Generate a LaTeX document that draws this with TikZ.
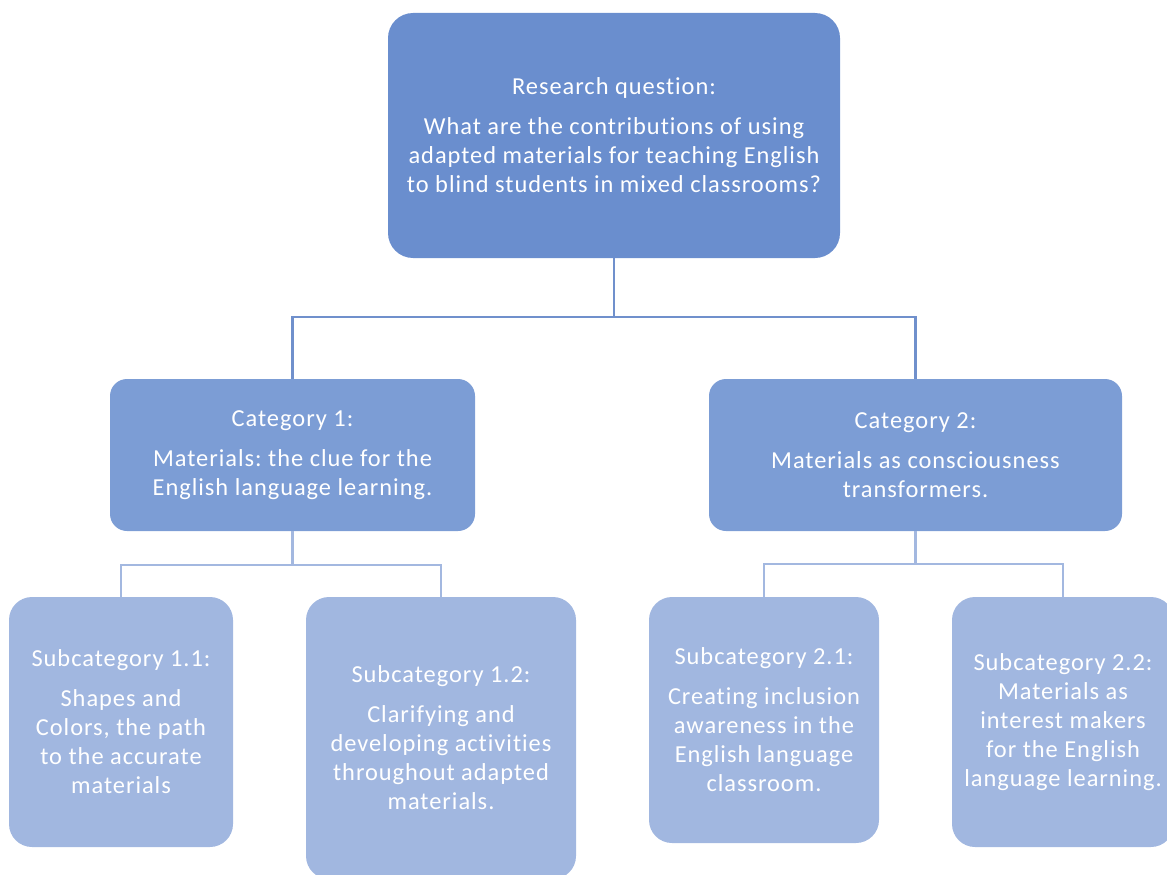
\documentclass[tikz,border=0pt]{standalone}
\usepackage{fontspec}
\setmainfont{Carlito}[LetterSpace=4, Ligatures={NoCommon}]
\usepackage{xcolor}
\usepackage{tikz}
\usetikzlibrary{positioning}
\frenchspacing
\definecolor{qblue}{HTML}{6A8ECE}
\definecolor{cblue}{HTML}{7C9DD5}
\definecolor{sblue}{HTML}{A1B7E0}
\definecolor{qline}{HTML}{7090CC}
\definecolor{sline}{HTML}{A3B8E0}

\begin{document}
\begin{tikzpicture} [
    x=1pt, y=-1pt,
    txt/.style={text=white, align=center, font=\fontsize{24.4}{29}\selectfont},
    question/.style={rectangle, txt, fill=qblue, rounded corners=25pt, minimum width=452pt, minimum height=245pt},
    category/.style={rectangle, txt, fill=cblue, rounded corners=17pt, minimum height=152pt},
    subcat/.style={rectangle, txt, fill=sblue, rounded corners=23pt},
    qlink/.style={draw=qline, line width=2.5pt},
    slink/.style={draw=sline, line width=2.5pt}
]
\useasboundingbox (0,0) rectangle (1167,875);

% Main flow
\node[question] (rq) at (614,135.5) {Research question:\\[11pt]What are the contributions of using\\adapted materials for teaching English\\to blind students in mixed classrooms?};
\node[category, minimum width=365pt] (cat1) at (292.5,455) {Category 1:\\[11pt]Materials: the clue for the\\English language learning.};
\node[category, minimum width=413pt] (cat2) at (915.5,455) {Category 2:\\[11pt]Materials as consciousness\\transformers.};
\node[subcat, minimum width=224pt, minimum height=250pt] (sub11) at (121,722) {Subcategory 1.1:\\[11pt]Shapes and\\Colors, the path\\to the accurate\\materials};
\node[subcat, minimum width=270pt, minimum height=282pt] (sub12) at (441,738) {Subcategory 1.2:\\[11pt]Clarifying and\\developing activities\\throughout adapted\\materials.};
\node[subcat, minimum width=230pt, minimum height=246pt] (sub21) at (764,720) {Subcategory 2.1:\\[11pt]Creating inclusion\\awareness in the\\English language\\classroom.};
\node[subcat, minimum width=222pt, minimum height=250pt] (sub22) at (1063,722) {Subcategory 2.2:\\Materials as\\interest makers\\for the English\\language learning.};

% Connections
\draw[qlink] (rq.south) -- ++(0,59) coordinate (rqfork);
\draw[qlink] (rqfork) -| (cat1.north);
\draw[qlink] (rqfork) -| (cat2.north);
\draw[slink] (cat1.south) -- ++(0,34) coordinate (catfork1);
\draw[slink] (catfork1) -| (sub11.north);
\draw[slink] (catfork1) -| (sub12.north);
\draw[slink] (cat2.south) -- ++(0,33) coordinate (catfork2);
\draw[slink] (catfork2) -| (sub21.north);
\draw[slink] (catfork2) -| (sub22.north);

\end{tikzpicture}
\end{document}
